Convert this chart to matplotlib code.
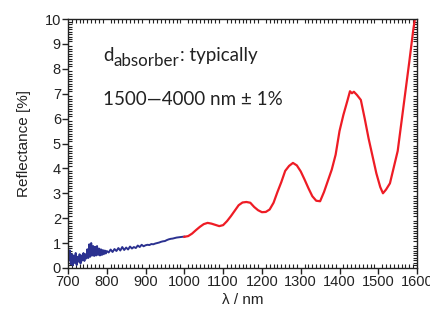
import numpy as np
import matplotlib
matplotlib.use("Agg")
import matplotlib.pyplot as plt
from matplotlib.ticker import MultipleLocator
from matplotlib.transforms import offset_copy

# measured reflectance, read off the original figure
# noisy VIS part (blue), 700-1000 nm
blue_nm = [700, 702.5, 705, 707.5, 710, 712.5, 715, 717.5, 720, 722.5, 725, 727.5,
           730, 732.5, 735, 737.5, 740, 742.5, 745, 747.5, 750, 752.5, 755, 757.5,
           760, 762.5, 765, 767.5, 770, 772.5, 775, 777.5, 780, 782.5, 785, 787.5,
           790, 792.5, 795, 797.5, 800, 805, 810, 815, 820, 825, 830, 835, 840, 845,
           850, 855, 860, 865, 870, 875, 880, 885, 890, 895, 900, 905, 910, 915, 920,
           925, 930, 935, 940, 945, 950, 955, 960, 965, 970, 975, 980, 985, 990, 995,
           1000]
blue_r = [0.85, 0.30, 0.70, 0.15, 0.55, 0.10, 0.50, 0.20, 0.60, 0.12, 0.45, 0.25,
          0.55, 0.18, 0.50, 0.30, 0.60, 0.28, 0.55, 0.38, 0.75, 0.40, 0.95, 0.45,
          1.00, 0.50, 0.88, 0.48, 0.85, 0.50, 0.88, 0.52, 0.78, 0.50, 0.75, 0.52,
          0.72, 0.55, 0.70, 0.58, 0.68, 0.62, 0.74, 0.64, 0.76, 0.68, 0.80, 0.70,
          0.84, 0.72, 0.82, 0.74, 0.86, 0.78, 0.84, 0.80, 0.90, 0.84, 0.93, 0.87,
          0.91, 0.93, 0.92, 0.96, 0.95, 0.98, 1.00, 1.02, 1.05, 1.07, 1.08, 1.12,
          1.15, 1.17, 1.18, 1.20, 1.22, 1.23, 1.24, 1.25, 1.26]

# NIR part (red), 1000-1600 nm
red_nm = [1000, 1010, 1020, 1030, 1040, 1050, 1060, 1070, 1080, 1090, 1100, 1110,
          1120, 1130, 1140, 1150, 1160, 1170, 1180, 1190, 1200, 1210, 1220, 1230,
          1240, 1250, 1260, 1270, 1280, 1290, 1300, 1310, 1320, 1330, 1340, 1350,
          1360, 1370, 1380, 1390, 1400, 1410, 1420, 1427, 1432, 1437, 1445, 1455,
          1465, 1475, 1485, 1495, 1505, 1512, 1520, 1530, 1540, 1550, 1560, 1570,
          1580, 1590, 1598]
red_r = [1.25, 1.28, 1.38, 1.52, 1.65, 1.76, 1.81, 1.78, 1.73, 1.68, 1.72, 1.88,
         2.08, 2.30, 2.52, 2.63, 2.65, 2.62, 2.45, 2.32, 2.24, 2.25, 2.35, 2.62,
         3.05, 3.45, 3.90, 4.10, 4.22, 4.12, 3.88, 3.55, 3.20, 2.88, 2.70, 2.68,
         3.05, 3.50, 3.95, 4.55, 5.50, 6.15, 6.70, 7.10, 7.02, 7.08, 6.95, 6.75,
         6.00, 5.20, 4.50, 3.80, 3.25, 3.00, 3.15, 3.40, 4.05, 4.70, 5.90, 7.10,
         8.30, 9.55, 10.4]

x_ticks = [700, 800, 900, 1000, 1100, 1200, 1300, 1400, 1500, 1600]
y_ticks = list(range(0, 11))

plt.rcParams['font.family'] = ['Liberation Sans', 'DejaVu Sans']

fig = plt.figure(figsize=(4.30, 3.13), dpi=100)
ax = fig.add_axes([0.158, 0.144, 0.812, 0.795])

ax.plot(blue_nm, blue_r, color='#2b3190', lw=1.4)
ax.plot(red_nm, red_r, color='#ee1c25', lw=1.6)

ax.set_xlim(700, 1600)
ax.set_ylim(0, 10)
ax.set_xticks(x_ticks)
ax.set_yticks(y_ticks)
ax.xaxis.set_minor_locator(MultipleLocator(10))
ax.yaxis.set_minor_locator(MultipleLocator(0.1))

ax.tick_params(which='major', direction='out', length=4, width=1,
               labelsize=10.5, colors='#222222', pad=1)
ax.tick_params(which='minor', direction='in', length=3, width=0.8,
               top=True, right=True, colors='#222222')
for s in ax.spines.values():
    s.set_color('#222222')
    s.set_linewidth(1.0)

ax.set_xlabel('λ / nm', fontsize=11, color='#222222', labelpad=3)
ax.set_ylabel('Reflectance [%]', fontsize=11, color='#222222', labelpad=10)

# annotation, built piece by piece so the subscript keeps a large size
fs = 13.5
txt_kw = dict(family='Lato', color='#222222')
fig.canvas.draw()
renderer = fig.canvas.get_renderer()
t = ax.text(0.10, 0.83, 'd', transform=ax.transAxes, fontsize=fs, **txt_kw)
w = t.get_window_extent(renderer).width * 72 / fig.dpi
t2 = ax.text(0.10, 0.83, 'absorber', fontsize=fs * 0.9,
             transform=offset_copy(ax.transAxes, fig, x=w + 0.3, y=-3.5, units='points'),
             **txt_kw)
w2 = t2.get_window_extent(renderer).width * 72 / fig.dpi
ax.text(0.10, 0.83, ': typically', fontsize=fs,
        transform=offset_copy(ax.transAxes, fig, x=w + w2 + 0.6, y=0, units='points'),
        **txt_kw)
ax.text(0.10, 0.655, '1500\u20144000 nm \u00b1 1%',
        transform=ax.transAxes, fontsize=fs, **txt_kw)

fig.savefig('out.png', dpi=100)
